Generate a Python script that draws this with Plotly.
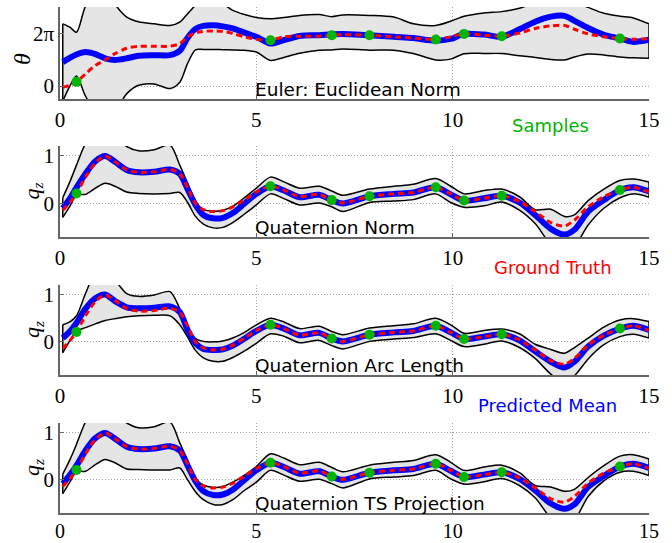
import plotly.graph_objects as go
import math

# ---------------- data ----------------
t_knots = [0.07, 0.25, 0.42, 0.65, 0.9, 1.15, 1.4, 1.7, 2.0, 2.4, 2.8,
           3.05, 3.25, 3.45, 3.65, 3.9, 4.15, 4.4, 4.7, 5.0, 5.36, 5.7,
           6.1, 6.6, 6.92, 7.2, 7.88, 8.5, 9.0, 9.57, 9.95, 10.29, 10.8,
           11.25, 11.7, 12.1, 12.5, 12.85, 13.1, 13.45, 13.85, 14.26, 14.6, 15.0]

sample_t = [0.42, 5.36, 6.92, 7.88, 9.57, 10.29, 11.25, 14.26]
sample_theta = [0.5, 5.45, 6.05, 6.05, 5.53, 6.2, 5.92, 5.65]
sample_qz = [0.21, 0.36, 0.07, 0.15, 0.34, 0.06, 0.16, 0.28]

# Euler panel (theta)
euler_truth = [-0.15, 0.10, 0.50, 1.45, 2.45, 3.10, 3.85, 4.50, 4.72, 4.74, 4.74,
               5.05, 5.85, 6.35, 6.50, 6.56, 6.50, 6.25, 5.85, 5.55, 5.45, 5.85,
               5.93, 5.93, 6.05, 6.10, 6.05, 5.85, 5.70, 5.53, 5.85, 6.20, 6.05,
               5.93, 6.30, 6.85, 7.15, 7.20, 6.75, 6.20, 5.85, 5.65, 5.55, 5.65]
euler_mean = [2.85, 3.35, 3.75, 4.05, 3.80, 3.30, 3.10, 3.30, 3.60, 3.67, 3.67,
              4.20, 5.75, 6.80, 7.15, 7.22, 7.10, 6.85, 6.35, 5.85, 5.05, 5.45,
              5.95, 6.05, 6.16, 6.20, 6.05, 5.85, 5.70, 5.40, 5.60, 6.20, 6.12,
              5.85, 6.75, 7.65, 8.25, 8.35, 7.75, 6.90, 6.10, 5.65, 5.25, 5.50]
euler_upper = [7.40, 7.00, 6.40, 9.50, 11.0, 11.5, 9.70, 8.20, 7.65, 7.40, 7.20,
               7.60, 8.60, 9.60, 10.2, 10.4, 9.80, 9.00, 8.50, 8.15, 8.00, 8.15,
               8.40, 8.50, 8.25, 8.45, 8.40, 8.20, 7.40, 7.20, 7.70, 8.30, 8.70,
               8.85, 9.25, 9.90, 10.4, 10.4, 10.0, 9.35, 8.65, 8.30, 8.10, 7.40]
euler_lower = [-1.8, 0.00, 1.20, -1.20, -3.0, -3.5, -3.0, -0.90, 0.10, 0.25, -0.30,
               0.45, 2.70, 4.30, 4.35, 4.35, 4.32, 4.30, 4.25, 4.05, 3.05, 3.40,
               3.90, 4.25, 4.30, 4.40, 4.27, 4.27, 3.87, 3.10, 3.20, 3.85, 3.87,
               3.87, 3.60, 3.40, 3.15, 3.10, 3.45, 3.80, 3.70, 3.45, 3.35, 3.30]

# Quaternion ground truth (q_z)
qz_truth = [-0.14, 0.02, 0.21, 0.55, 0.85, 0.99, 0.87, 0.70, 0.65, 0.66, 0.71,
            0.62, 0.33, 0.00, -0.13, -0.17, -0.15, -0.07, 0.08, 0.24, 0.36, 0.28,
            0.14, 0.19, 0.07, 0.01, 0.15, 0.20, 0.23, 0.34, 0.20, 0.06, 0.11,
            0.16, 0.04, -0.17, -0.40, -0.47, -0.35, -0.07, 0.14, 0.28, 0.34, 0.24]

# Quaternion Norm
qn_mean = [-0.10, 0.10, 0.33, 0.62, 0.88, 0.99, 0.87, 0.70, 0.65, 0.66, 0.71,
           0.62, 0.30, -0.03, -0.24, -0.31, -0.30, -0.20, 0.00, 0.20, 0.36, 0.27,
           0.13, 0.18, 0.07, 0.00, 0.15, 0.20, 0.23, 0.34, 0.19, 0.06, 0.11,
           0.16, 0.02, -0.24, -0.53, -0.65, -0.55, -0.17, 0.07, 0.28, 0.34, 0.25]
qn_upper = [0.12, 0.45, 0.80, 1.25, 1.50, 1.60, 1.40, 1.19, 1.10, 1.12, 1.22,
            0.80, 0.42, 0.04, -0.13, -0.16, -0.14, -0.06, 0.12, 0.32, 0.55, 0.45,
            0.32, 0.36, 0.26, 0.17, 0.30, 0.36, 0.40, 0.52, 0.36, 0.20, 0.27,
            0.30, 0.14, -0.13, -0.12, -0.27, -0.24, 0.06, 0.30, 0.48, 0.51, 0.45]
qn_lower = [-0.29, -0.06, 0.18, 0.19, 0.32, 0.42, 0.36, 0.24, 0.21, 0.20, 0.21,
            0.23, 0.02, -0.27, -0.43, -0.51, -0.50, -0.40, -0.22, -0.03, 0.20, 0.10,
            -0.03, 0.01, -0.07, -0.17, 0.02, 0.05, 0.08, 0.20, 0.02, -0.08, -0.05,
            0.03, -0.14, -0.42, -0.85, -1.00, -0.90, -0.45, -0.10, 0.12, 0.20, 0.13]

# Quaternion Arc Length
qal_mean = [0.08, 0.22, 0.40, 0.70, 0.92, 1.00, 0.86, 0.73, 0.71, 0.72, 0.75,
            0.63, 0.25, -0.03, -0.15, -0.17, -0.16, -0.08, 0.07, 0.23, 0.36, 0.28,
            0.14, 0.19, 0.07, 0.01, 0.15, 0.20, 0.23, 0.34, 0.20, 0.06, 0.11,
            0.16, 0.03, -0.20, -0.42, -0.54, -0.42, -0.10, 0.13, 0.28, 0.34, 0.25]
qal_upper = [0.36, 0.42, 0.55, 1.02, 1.45, 1.50, 1.30, 1.02, 0.96, 0.99, 1.06,
             0.70, 0.30, 0.07, 0.01, 0.00, 0.02, 0.08, 0.20, 0.36, 0.50, 0.42,
             0.28, 0.33, 0.22, 0.15, 0.29, 0.34, 0.38, 0.50, 0.36, 0.18, 0.24,
             0.27, 0.17, -0.05, -0.16, -0.24, -0.12, 0.08, 0.31, 0.46, 0.49, 0.43]
qal_lower = [-0.23, 0.02, 0.22, 0.30, 0.38, 0.45, 0.49, 0.53, 0.55, 0.56, 0.55,
             0.36, 0.10, -0.18, -0.34, -0.41, -0.41, -0.33, -0.19, -0.03, 0.17, 0.12,
             -0.02, 0.03, -0.08, -0.15, 0.01, 0.06, 0.09, 0.17, 0.03, -0.10, -0.05,
             0.02, -0.12, -0.35, -0.68, -0.85, -0.72, -0.36, -0.06, 0.11, 0.16, 0.08]

# Quaternion TS Projection
qts_mean = [-0.08, 0.10, 0.30, 0.62, 0.88, 0.99, 0.87, 0.70, 0.65, 0.66, 0.71,
            0.62, 0.30, -0.03, -0.24, -0.32, -0.31, -0.21, 0.00, 0.20, 0.36, 0.27,
            0.13, 0.18, 0.07, 0.00, 0.15, 0.20, 0.23, 0.34, 0.19, 0.06, 0.11,
            0.16, 0.02, -0.22, -0.50, -0.61, -0.52, -0.15, 0.08, 0.28, 0.34, 0.25]
qts_upper = [0.12, 0.42, 0.75, 1.22, 1.50, 1.60, 1.40, 1.20, 1.10, 1.12, 1.22,
             0.78, 0.40, 0.03, -0.11, -0.16, -0.14, -0.05, 0.10, 0.28, 0.55, 0.46,
             0.32, 0.37, 0.26, 0.17, 0.31, 0.37, 0.41, 0.53, 0.37, 0.20, 0.27,
             0.31, 0.15, -0.12, -0.15, -0.24, -0.20, 0.05, 0.30, 0.50, 0.53, 0.44]
qts_lower = [-0.29, -0.05, 0.18, 0.18, 0.32, 0.43, 0.36, 0.23, 0.22, 0.21, 0.21,
             0.25, 0.00, -0.25, -0.42, -0.52, -0.52, -0.42, -0.22, -0.05, 0.20, 0.10,
             -0.03, 0.01, -0.08, -0.17, 0.02, 0.06, 0.09, 0.20, 0.02, -0.09, -0.04,
             0.03, -0.12, -0.38, -0.80, -0.95, -0.85, -0.35, -0.02, 0.16, 0.18, 0.09]

panel_titles = ["Euler: Euclidean Norm", "Quaternion Norm",
                "Quaternion Arc Length", "Quaternion TS Projection"]
x_ticks = [0, 5, 10, 15]
legend_labels = ["Samples", "Ground Truth", "Predicted Mean"]

# ---------------- styling ----------------
GREEN = "rgb(0,180,0)"
RED = "rgb(255,0,0)"
BLUE = "rgb(0,0,255)"
BAND = "rgb(229,229,229)"
AXC = "#666666"
SERIF = "Liberation Serif"
SANS = "DejaVu Sans"

domains = [[0.8182, 1.0], [0.5455, 0.7253], [0.2727, 0.4506], [0.0, 0.1779]]

panels = [
    (euler_truth, euler_mean, euler_upper, euler_lower, sample_theta),
    (qz_truth, qn_mean, qn_upper, qn_lower, sample_qz),
    (qz_truth, qal_mean, qal_upper, qal_lower, sample_qz),
    (qz_truth, qts_mean, qts_upper, qts_lower, sample_qz),
]

fig = go.Figure()
spl = dict(shape="spline", smoothing=0.8)

for i, (truth, mean, upper, lower, sy) in enumerate(panels):
    xa = "x" if i == 0 else f"x{i+1}"
    ya = "y" if i == 0 else f"y{i+1}"
    common = dict(xaxis=xa, yaxis=ya, hoverinfo="skip", showlegend=False)
    fig.add_trace(go.Scatter(x=t_knots, y=upper, mode="lines",
                             line=dict(color="black", width=1.5, **spl), **common))
    fig.add_trace(go.Scatter(x=t_knots, y=lower, mode="lines", fill="tonexty",
                             fillcolor=BAND,
                             line=dict(color="black", width=1.5, **spl), **common))
    fig.add_trace(go.Scatter(x=[t_knots[0], t_knots[0]], y=[lower[0], upper[0]],
                             mode="lines", line=dict(color="black", width=1.5), **common))
    fig.add_trace(go.Scatter(x=[t_knots[-1], t_knots[-1]], y=[lower[-1], upper[-1]],
                             mode="lines", line=dict(color="black", width=1.5), **common))
    fig.add_trace(go.Scatter(x=t_knots, y=mean, mode="lines",
                             line=dict(color=BLUE, width=6, **spl), **common))
    fig.add_trace(go.Scatter(x=t_knots, y=truth, mode="lines",
                             line=dict(color=RED, width=3, dash="6px,4px", **spl), **common))
    fig.add_trace(go.Scatter(x=sample_t, y=sy, mode="markers",
                             marker=dict(color=GREEN, size=10, line=dict(width=0)),
                             **common))

axis_common = dict(showline=True, linecolor=AXC, linewidth=1.5, mirror=False,
                   ticks="inside", ticklen=4, tickcolor=AXC, automargin=False,
                   showgrid=True, gridcolor="#a0a0a0", gridwidth=1, griddash="1px,2px",
                   zeroline=False)

tick_font = dict(family=SERIF, size=21, color="black")

layout = dict(width=672, height=543, template="none",
              margin=dict(l=60, r=23, t=7, b=30, autoexpand=False),
              plot_bgcolor="white", paper_bgcolor="white",
              showlegend=False)

for i in range(4):
    xk = "xaxis" if i == 0 else f"xaxis{i+1}"
    yk = "yaxis" if i == 0 else f"yaxis{i+1}"
    ya = "y" if i == 0 else f"y{i+1}"
    xa = "x" if i == 0 else f"x{i+1}"
    if i < 3:
        layout[xk] = dict(anchor=ya, domain=[0, 1], range=[0, 15], tickvals=x_ticks,
                          ticklabelstandoff=1, tickfont=tick_font, **axis_common)
    else:
        layout[xk] = dict(anchor=ya, domain=[0, 1], range=[0, 15], tickvals=x_ticks,
                          ticklabelstandoff=-1,
                          tickfont=dict(family=SERIF, size=20, color="black"),
                          **axis_common)
    if i == 0:
        layout[yk] = dict(anchor=xa, domain=domains[i], range=[-1.54, 9.4],
                          tickvals=[0, 2 * math.pi], ticktext=["0", "2π"],
                          tickfont=tick_font, **axis_common)
    else:
        layout[yk] = dict(anchor=xa, domain=domains[i], range=[-0.7, 1.2],
                          tickvals=[0, 1], ticktext=["0", "1"],
                          tickfont=tick_font, **axis_common)

fig.update_layout(**layout)

annotations = []
for i, title in enumerate(panel_titles):
    xa = "x" if i == 0 else f"x{i+1}"
    ya = "y" if i == 0 else f"y{i+1}"
    annotations.append(dict(text=title, xref=xa, yref=f"{ya} domain",
                            x=5, y=0, xanchor="left", yanchor="bottom",
                            xshift=-3, yshift=-3, showarrow=False,
                            font=dict(family=SANS, size=18.5, color="black")))
annotations.append(dict(text="<i>θ</i>", xref="paper", yref="y domain",
                        x=0, y=0.5, xshift=-38, yshift=-6, xanchor="center",
                        yanchor="middle", textangle=-90, showarrow=False,
                        font=dict(family=SERIF, size=24, color="black")))
for i in range(1, 4):
    annotations.append(dict(text="<i>q<sub>z</sub></i>", xref="paper",
                            yref=f"y{i+1} domain", x=0, y=0.5, xshift=-27,
                            xanchor="center", yanchor="middle", textangle=-90,
                            showarrow=False,
                            font=dict(family=SERIF, size=22, color="black")))
leg_pos = [(0.8328, 0.7411, GREEN), (0.837, 0.4613, RED), (0.8285, 0.1872, BLUE)]
for lab, (lx, ly, col) in zip(legend_labels, leg_pos):
    annotations.append(dict(text=lab, xref="paper", yref="paper", x=lx, y=ly,
                            xanchor="center", yanchor="bottom", showarrow=False,
                            font=dict(family=SANS, size=18, color=col)))

fig.update_layout(annotations=annotations)
fig.write_html("out.html", config={"displayModeBar": False},
               post_script="document.body.style.margin='0';document.body.style.padding='0';")
